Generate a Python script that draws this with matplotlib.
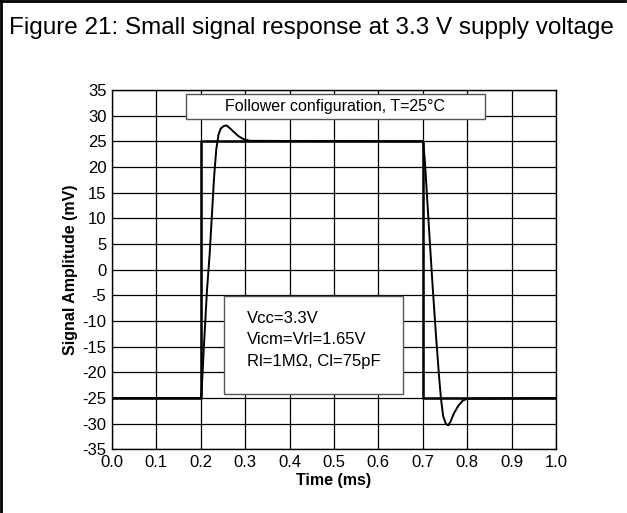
import matplotlib.pyplot as plt
from matplotlib.lines import Line2D
from matplotlib.patches import Rectangle

plt.rcParams['font.family'] = ['Liberation Sans', 'DejaVu Sans']
plt.rcParams['axes.unicode_minus'] = False

# input step (square wave) in ms / mV
input_t = [0.0, 0.2, 0.2, 0.7, 0.7, 1.0]
input_mv = [-25, -25, 25, 25, -25, -25]

# follower output
output_t = [0.0, 0.200, 0.202, 0.207, 0.214, 0.220, 0.230, 0.235, 0.240, 0.245,
            0.252, 0.258, 0.265, 0.275, 0.285, 0.295, 0.310, 0.700, 0.702, 0.705,
            0.712, 0.7214, 0.730, 0.737, 0.741, 0.746, 0.752, 0.7575, 0.763, 0.770,
            0.780, 0.790, 0.800, 1.0]
output_mv = [-25, -25, -23.5, -15, -4, 3, 18, 23.5, 26.3, 27.5,
             28.0, 28.1, 27.6, 26.8, 26.0, 25.5, 25.1, 25.0, 24.0, 21.0,
             11.0, -2.0, -13.0, -21.0, -25.0, -28.5, -30.0, -30.3, -29.5, -28.0,
             -26.5, -25.5, -25.1, -25.0]

x_ticks = [0.0, 0.1, 0.2, 0.3, 0.4, 0.5, 0.6, 0.7, 0.8, 0.9, 1.0]
y_ticks = [-35, -30, -25, -20, -15, -10, -5, 0, 5, 10, 15, 20, 25, 30, 35]

fig = plt.figure(figsize=(6.27, 5.13), dpi=100)
ax = fig.add_axes([0.1786, 0.1238, 0.708, 0.7008])

ax.plot(input_t, input_mv, color='black', lw=1.8, zorder=3)
ax.plot(output_t, output_mv, color='black', lw=1.4, zorder=3)

ax.set_xlim(0, 1)
ax.set_ylim(-35, 35)
ax.set_xticks(x_ticks)
ax.set_xticklabels([f'{v:.1f}' for v in x_ticks])
ax.set_yticks(y_ticks)
ax.tick_params(length=0, labelsize=12, pad=4, colors='black')
ax.grid(True, color='black', lw=0.9)
ax.set_axisbelow(True)
for s in ax.spines.values():
    s.set_color('black')
    s.set_linewidth(1.0)

ax.set_xlabel('Time (ms)', fontsize=11.5, fontweight='bold', labelpad=2)
ax.set_ylabel('Signal Amplitude (mV)', fontsize=11.5, fontweight='bold', labelpad=3)

# annotation boxes
ax.add_patch(Rectangle((0.1667, 0.919), 0.673, 0.070, transform=ax.transAxes,
                       facecolor='white', edgecolor='#555555', lw=1.0, zorder=4))
ax.text(0.503, 0.954, 'Follower configuration, T=25°C', transform=ax.transAxes,
        ha='center', va='center', fontsize=11.5, zorder=5)

ax.add_patch(Rectangle((0.2523, 0.154), 0.4031, 0.273, transform=ax.transAxes,
                       facecolor='white', edgecolor='#555555', lw=1.0, zorder=4))
for y, s in zip([0.352, 0.2935, 0.232],
                ['Vcc=3.3V', 'Vicm=Vrl=1.65V', 'Rl=1MΩ, Cl=75pF']):
    ax.text(0.304, y, s, transform=ax.transAxes, ha='left', va='baseline',
            fontsize=12, zorder=5)

fig.text(0.014, 0.945, 'Figure 21: Small signal response at 3.3 V supply voltage',
         ha='left', va='center', fontsize=17.5)

# page frame (left and top edges)
fig.add_artist(Line2D([0.002, 0.002], [0, 1], transform=fig.transFigure, color='black', lw=2))
fig.add_artist(Line2D([0, 0.997], [0.998, 0.998], transform=fig.transFigure, color='black', lw=2))

fig.savefig('out.png', dpi=100)
